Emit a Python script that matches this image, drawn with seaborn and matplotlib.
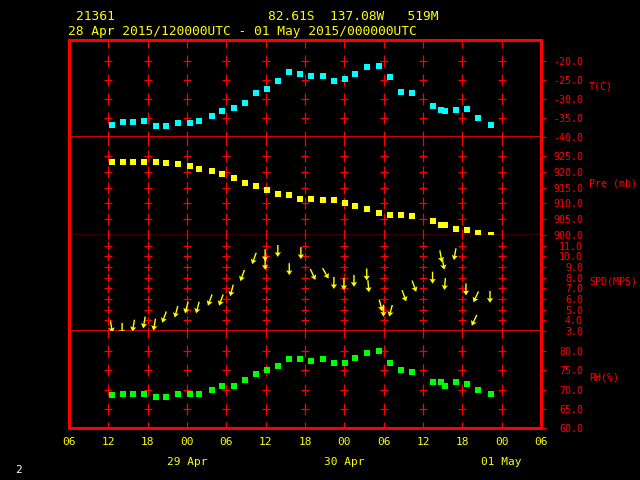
import numpy as np
import matplotlib
matplotlib.use("Agg")
import matplotlib.pyplot as plt
from matplotlib.patches import Rectangle
import seaborn as sns

# hours after 28 Apr 2015 06 UTC
hours = [6.5, 8.2, 9.8, 11.5, 13.2, 14.8, 16.7, 18.4, 19.9, 21.8, 23.4, 25.1,
         26.8, 28.5, 30.2, 31.9, 33.6, 35.2, 36.9, 38.7, 40.4, 42.1, 43.6, 45.5,
         47.3, 48.9, 50.7, 52.3, 55.6, 56.8, 57.4, 59.0, 60.7, 62.4, 64.3]
temp = [-36.8, -36.2, -36.0, -35.9, -37.1, -37.1, -36.3, -36.3, -35.8, -34.4,
        -33.3, -32.3, -31.2, -28.5, -27.4, -25.4, -22.9, -23.6, -24.1, -24.0,
        -25.3, -24.8, -23.4, -21.7, -21.3, -24.3, -28.1, -28.6, -32.0, -32.9,
        -33.2, -32.9, -32.7, -34.9, -36.9]
pres = [923.1, 923.1, 923.1, 923.1, 923.0, 922.8, 922.5, 921.8, 920.9, 920.2,
        919.3, 918.0, 916.5, 915.5, 914.3, 913.0, 912.6, 911.4, 911.4, 911.1,
        911.1, 910.1, 909.2, 908.2, 907.0, 906.3, 906.3, 905.9, 904.4, 903.2,
        903.2, 901.9, 901.6, 900.6, 900.0]
rh = [68.6, 68.9, 68.9, 68.9, 68.0, 68.0, 68.9, 68.9, 68.9, 69.9, 71.0, 71.0,
      72.5, 74.1, 75.1, 76.1, 77.9, 77.9, 77.4, 77.9, 76.9, 76.9, 78.3, 79.5,
      80.0, 76.9, 75.0, 74.7, 72.0, 72.0, 71.0, 72.0, 71.5, 69.9, 68.9]

wind_hours = [6.47, 8.1, 9.83, 11.47, 13.04, 14.53, 16.36, 17.94, 19.62, 21.51,
              23.2, 24.82, 26.45, 28.24, 29.92, 29.92, 31.85, 33.6, 35.37, 37.2,
              39.14, 40.41, 41.94, 43.47, 45.41, 45.67, 47.55, 47.97, 49.08, 51.12,
              52.65, 55.46, 56.73, 57.08, 57.34, 58.87, 60.55, 61.82, 62.08, 64.22]
wind_spd = [3.4, 3.2, 3.5, 3.8, 3.6, 4.3, 4.8, 5.2, 5.2, 5.9,
            5.9, 6.8, 8.2, 9.8, 10.1, 9.3, 10.5, 8.8, 10.3, 8.3,
            8.4, 7.5, 7.4, 7.7, 8.3, 7.2, 5.4, 4.9, 4.9, 6.3,
            7.2, 8.0, 10.0, 9.3, 7.4, 10.2, 6.9, 4.0, 6.2, 6.2]
wind_dir = [350, 0, 10, 10, 10, 20, 15, 15, 15, 20,
            20, 15, 20, 20, 0, 0, 0, 0, 0, 335,
            330, 0, 0, 0, 0, 355, 345, 0, 15, 340,
            340, 0, 350, 350, 5, 10, 0, 25, 25, 0]

hour_ticks = list(range(0, 73, 6))
hour_labels = ["06", "12", "18", "00", "06", "12", "18", "00", "06", "12", "18", "00", "06"]
day_hours = [18, 42, 66]
day_labels = ["29 Apr", "30 Apr", "01 May"]

t_ticks = [-40, -35, -30, -25, -20]
p_ticks = [900, 905, 910, 915, 920, 925]
s_ticks = [3, 4, 5, 6, 7, 8, 9, 10, 11]
r_ticks = [60, 65, 70, 75, 80]

sns.set_theme(style="ticks", rc={"axes.facecolor": "black", "figure.facecolor": "black"})
plt.rcParams["font.family"] = ["DejaVu Sans Mono", "DejaVu Sans"]

W, H = 640, 480
RED = "#ff0000"
YEL = "#ffff00"


def fx(px):
    return px / W


def fy(py):
    return 1 - py / H


def crosses(ax, ticks, step, ylim, height_px):
    ppu = height_px / (ylim[1] - ylim[0])
    half = min(6.0, 0.42 * step * ppu) / ppu
    ext = [ticks[0] - step] + list(ticks) + [ticks[-1] + step]
    gx = np.arange(6, 67, 6)
    X, Y = np.meshgrid(gx, ext)
    ax.vlines(X.ravel(), Y.ravel() - half, Y.ravel() + half, color=RED, lw=0.9, zorder=1)
    X2, Y2 = np.meshgrid(gx, ticks)
    ax.plot(X2.ravel(), Y2.ravel(), ls="none", marker="_", ms=5.5, mew=0.9,
            color=RED, zorder=1)


fig = plt.figure(figsize=(6.4, 4.8), dpi=100, facecolor="black")

panels = [(40, 137, (-40, -14.6), t_ticks, 5, "T(C)"),
          (137, 235, (900, 931), p_ticks, 5, "Pre (mb)"),
          (235, 331, (3.0, 12.0), s_ticks, 1, "SPD(MPS)"),
          (331, 428, (60, 85.3), r_ticks, 5, "RH(%)")]

axes = []
for i, (top, bot, ylim, ticks, step, name) in enumerate(panels):
    ax = fig.add_axes([fx(69), fy(bot), fx(541) - fx(69), (bot - top) / H])
    ax.set_facecolor("black")
    crosses(ax, ticks, step, ylim, bot - top)
    ax.set_xlim(0, 72)
    ax.set_ylim(*ylim)
    for s in ["top", "left", "right", "bottom"]:
        ax.spines[s].set_visible(False)
    if i < 3:
        ax.spines["bottom"].set_visible(True)
        ax.spines["bottom"].set_color(RED)
        ax.spines["bottom"].set_linewidth(1.0 if i == 1 else 1.2)
    ax.yaxis.tick_right()
    ax.set_yticks(ticks)
    ax.set_yticklabels(["%.1f" % t for t in ticks])
    ax.tick_params(axis="y", direction="out", length=3.6, width=0.9, color=RED,
                   labelcolor=RED, labelsize=7.2, pad=26.6, left=False, right=True,
                   labelleft=False, labelright=True)
    for lbl in ax.get_yticklabels():
        lbl.set_horizontalalignment("right")
    ax.set_xticks(hour_ticks)
    ax.tick_params(axis="x", length=0, bottom=False, labelbottom=False)
    fig.text(fx(589), fy((top + bot) / 2 - 2), name, color=RED, fontsize=7.2,
             ha="left", va="center")
    axes.append(ax)

ax_t, ax_p, ax_s, ax_r = axes

sns.scatterplot(x=hours, y=temp, ax=ax_t, color="#00ffff", marker="s", s=20,
                linewidth=0, zorder=3)
sns.scatterplot(x=hours, y=pres, ax=ax_p, color=YEL, marker="s", s=20,
                linewidth=0, zorder=3)
sns.scatterplot(x=hours, y=rh, ax=ax_r, color="#00ff00", marker="s", s=20,
                linewidth=0, zorder=3)

d = np.radians(wind_dir)
u = -np.sin(d)
v = -np.cos(d)
ax_s.quiver(wind_hours, wind_spd, u, v, color=YEL, angles="uv", scale_units="dots",
            scale=1 / 12.0, units="dots", width=1.4, headwidth=4.5, headlength=3.5,
            headaxislength=3, pivot="middle", zorder=3)

for ax, (top, bot, ylim, ticks, step, name) in zip(axes, panels):
    ax.set_xlim(0, 72)
    ax.set_ylim(*ylim)
    ax.set_xlabel("")
    ax.set_ylabel("")

ax_r.tick_params(axis="x", labelbottom=True, labelcolor=YEL, labelsize=8, pad=6.5)
ax_r.set_xticklabels(hour_labels)
for h, lab in zip(day_hours, day_labels):
    ax_r.text(h, -0.35, lab, transform=ax_r.get_xaxis_transform(), color=YEL,
              fontsize=8, ha="center", va="center")

fig.add_artist(Rectangle((fx(69), fy(428)), fx(541) - fx(69), (428 - 40) / H,
                         transform=fig.transFigure, fill=False, edgecolor=RED,
                         lw=2.2, zorder=10))

fig.text(fx(76), fy(17), "21361", color=YEL, fontsize=9.3, va="center")
fig.text(fx(268), fy(17), "82.61S  137.08W   519M", color=YEL, fontsize=9.3, va="center")
fig.text(fx(68), fy(31), "28 Apr 2015/120000UTC - 01 May 2015/000000UTC", color=YEL,
         fontsize=9.3, va="center")
fig.text(fx(15), fy(470), "2", color="white", fontsize=8, va="center")

fig.savefig("out.png", dpi=100, facecolor="black")
